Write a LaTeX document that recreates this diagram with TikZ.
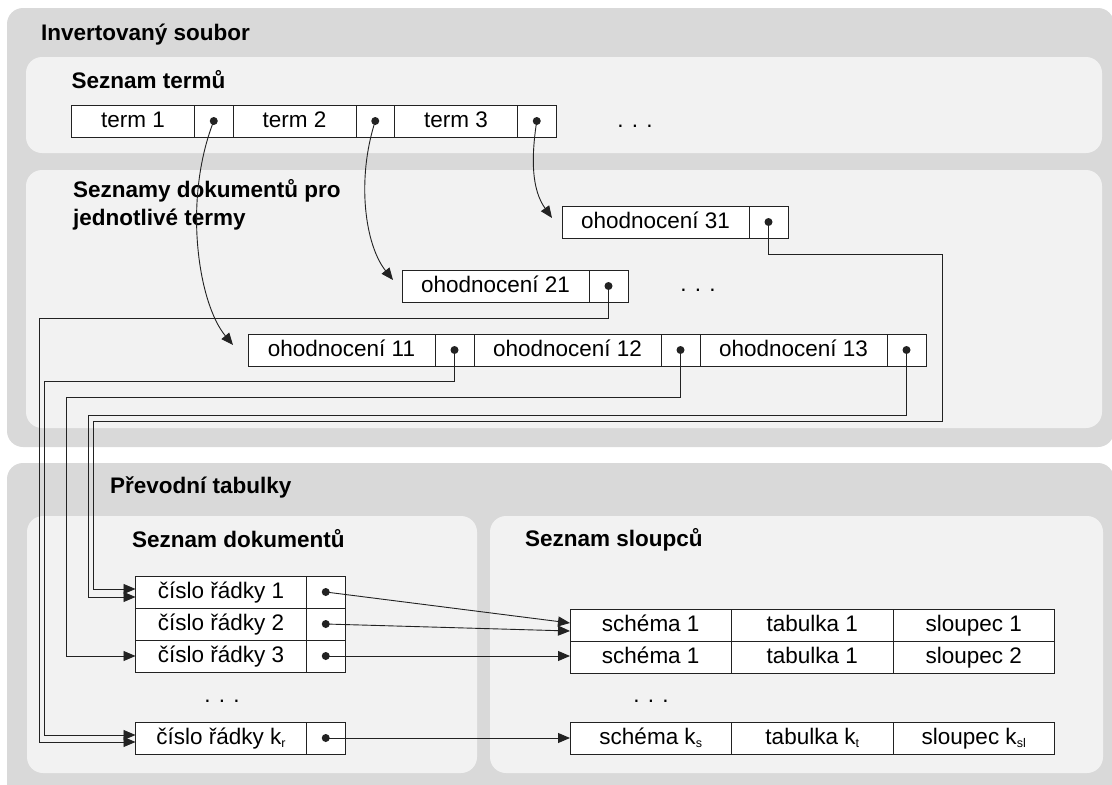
\documentclass[tikz,border=0pt]{standalone}
\usepackage{fontspec}
\setmainfont{Liberation Sans}
\usetikzlibrary{arrows.meta,calc}
\definecolor{panelout}{HTML}{D9D9D9}
\definecolor{panelin}{HTML}{F2F2F2}
\definecolor{ink}{HTML}{222222}
% lowered small index, e.g. k_r
\newcommand{\lo}[1]{\raisebox{-3.5pt}{\fontsize{12.5}{12.5}\selectfont #1}}

\begin{document}
\begin{tikzpicture}[x=1pt,y=-1pt,
  outerpanel/.style={fill=panelout, rounded corners=16pt},
  innerpanel/.style={fill=panelin, rounded corners=16pt},
  title/.style={anchor=base west, inner sep=0pt, font=\bfseries\fontsize{22.5}{26}\selectfont},
  cellbox/.style={draw=ink, line width=0.9pt, fill=white, anchor=north west,
    minimum height=32pt, inner sep=0pt, outer sep=0pt,
    text height=16pt, text depth=3.5pt, font=\fontsize{22.5}{26}\selectfont},
  termcell/.style={cellbox, minimum width=123pt},
  valcell/.style={cellbox, minimum width=187pt},
  rowcell/.style={cellbox, minimum width=171pt},
  colcell/.style={cellbox, minimum width=161.5pt},
  ptrbox/.style={cellbox, minimum width=38.5pt},
  link/.style={draw=ink, line width=0.9pt},
  arrowlink/.style={link, -{Triangle[length=12pt,width=10pt]}},
  ellip/.style={inner sep=0pt, anchor=base, font=\fontsize{22.5}{26}\selectfont}
]
\useasboundingbox (0,0) rectangle (1112,785);
\clip (0,0) rectangle (1112,785);

% panels
\fill[outerpanel] (7,8) rectangle (1114,447);
\fill[innerpanel] (26,57) rectangle (1102,153);
\fill[innerpanel] (26,170) rectangle (1102,428);
\fill[outerpanel] (7,463) rectangle (1114,800);
\fill[innerpanel] (27,516) rectangle (477,773);
\fill[innerpanel] (490,516) rectangle (1103,773);

% headings
\node[title] (hInv)    at (41,40)    {Invertovaný soubor};
\node[title] (hTerms)  at (71.5,88.5) {Seznam termů};
\node[title] (hListsA) at (73,197.5) {Seznamy dokumentů pro};
\node[title] (hListsB) at (73,225)   {jednotlivé termy};
\node[title] (hConv)   at (110,493)  {Převodní tabulky};
\node[title] (hDocs)   at (132,547)  {Seznam dokumentů};
\node[title] (hCols)   at (525,546)  {Seznam sloupců};

% term list
\node[termcell] (t1)  at (71.5,105) {term 1};
\node[ptrbox]   (t1p) at (t1.north east) {};
\node[termcell] (t2)  at (t1p.north east) {term 2};
\node[ptrbox]   (t2p) at (t2.north east) {};
\node[termcell] (t3)  at (t2p.north east) {term 3};
\node[ptrbox]   (t3p) at (t3.north east) {};
\node[ellip] (tmore) at (635,127) {. . .};

% posting lists
\node[valcell] (o31)  at (562,206) {ohodnocení 31};
\node[ptrbox, minimum width=39pt] (o31p) at (o31.north east) {};
\node[valcell] (o21)  at (402,270) {ohodnocení 21};
\node[ptrbox, minimum width=39pt] (o21p) at (o21.north east) {};
\node[ellip] (omore) at (698,291) {. . .};
\node[valcell] (o11)  at (248,334) {ohodnocení 11};
\node[ptrbox, minimum width=39pt] (o11p) at (o11.north east) {};
\node[valcell] (o12)  at (o11p.north east) {ohodnocení 12};
\node[ptrbox, minimum width=39pt] (o12p) at (o12.north east) {};
\node[valcell] (o13)  at (o12p.north east) {ohodnocení 13};
\node[ptrbox, minimum width=39pt] (o13p) at (o13.north east) {};

% document table
\node[rowcell] (r1)  at (135.5,576) {číslo řádky 1};
\node[ptrbox]  (r1p) at (r1.north east) {};
\node[rowcell] (r2)  at (r1.south west) {číslo řádky 2};
\node[ptrbox]  (r2p) at (r2.north east) {};
\node[rowcell] (r3)  at (r2.south west) {číslo řádky 3};
\node[ptrbox]  (r3p) at (r3.north east) {};
\node[ellip] (rmore) at (222,702) {. . .};
\node[rowcell] (rk)  at (135.5,722) {číslo řádky k\lo{r}};
\node[ptrbox]  (rkp) at (rk.north east) {};

% column table
\node[colcell] (s1a) at (570,609) {schéma 1};
\node[colcell] (s1b) at (s1a.north east) {tabulka 1};
\node[colcell] (s1c) at (s1b.north east) {sloupec 1};
\node[colcell] (s2a) at (s1a.south west) {schéma 1};
\node[colcell] (s2b) at (s2a.north east) {tabulka 1};
\node[colcell] (s2c) at (s2b.north east) {sloupec 2};
\node[ellip] (smore) at (651,702) {. . .};
\node[colcell] (ska) at (570,722) {schéma k\lo{s}};
\node[colcell] (skb) at (ska.north east) {tabulka k\lo{t}};
\node[colcell] (skc) at (skb.north east) {sloupec k\lo{sl}};

% pointer dots
\foreach \p in {t1p,t2p,t3p,o31p,o21p,o11p,o12p,o13p,r1p,r2p,r3p,rkp}
  \fill[ink] (\p.center) circle (4pt);

% terms -> first entries of their lists
\draw[arrowlink] (t1p.center) .. controls ($(t1p.center)+(-31,79)$) and ($(o11.west)+(-50,-47)$) .. ($(o11.west)+(-15,-5)$);
\draw[arrowlink] (t2p.center) .. controls ($(t2p.center)+(-19,59)$) and ($(o21.west)+(-37,-41)$) .. ($(o21.west)+(-9,-6)$);
\draw[arrowlink] (t3p.center) .. controls ($(t3p.center)+(-6,39)$) and ($(o31.west)+(-30,-32)$) .. ($(o31.west)+(-10,-4)$);

% list entries -> document rows
\draw[arrowlink] (o31p.center) |- (942,254) |- (93,421) |- ($(r1.west)+(0,-3)$);
\draw[arrowlink] (o13p.center) |- (88,415) |- ($(r1.west)+(0,5)$);
\draw[arrowlink] (o12p.center) |- (66.5,397) |- (r3.west);
\draw[arrowlink] (o11p.center) |- (44,381) |- ($(rk.west)+(0,-3)$);
\draw[arrowlink] (o21p.center) |- (39,318) |- ($(rk.west)+(0,4)$);

% document rows -> columns
\draw[arrowlink] (r1p.center) -- ($(s1a.west)+(0,-2)$);
\draw[arrowlink] (r2p.center) -- ($(s1a.west)+(0,6)$);
\draw[arrowlink] (r3p.center) -- (s2a.west |- r3p.center);
\draw[arrowlink] (rkp.center) -- (ska.west |- rkp.center);
\end{tikzpicture}
\end{document}
